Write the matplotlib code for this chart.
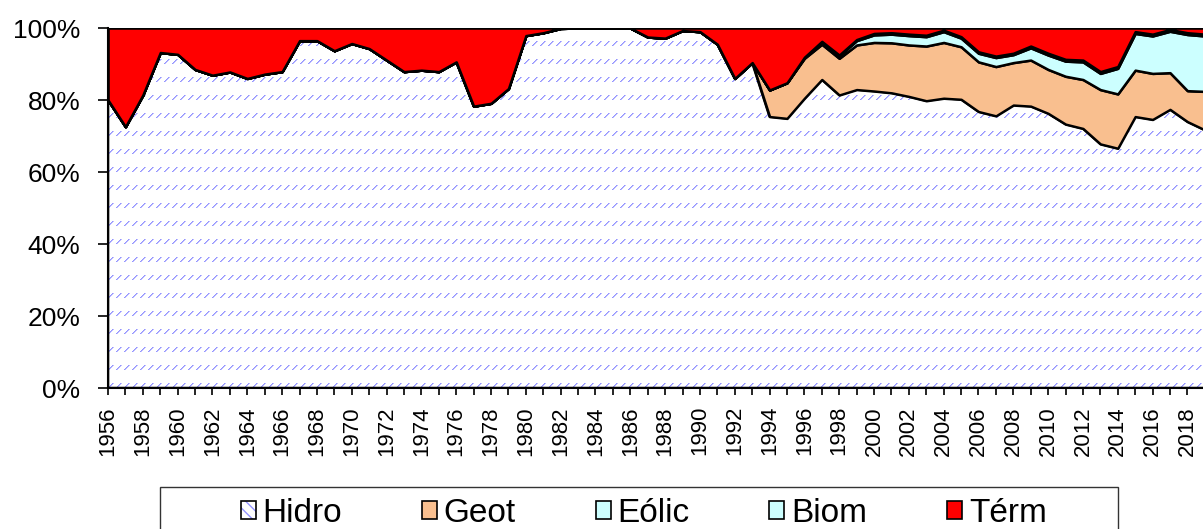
import numpy as np
import matplotlib
matplotlib.use("Agg")
import matplotlib.pyplot as plt
from matplotlib.patches import Patch, Rectangle
from matplotlib.ticker import MultipleLocator, PercentFormatter

plt.rcParams['font.family'] = ['Liberation Sans', 'DejaVu Sans']

years = list(range(1956, 2020))

# generation share by source, % of total
hidro = [80.0, 72.6, 81.4, 93.2, 92.7, 88.5, 86.9, 87.8, 86.0, 87.2,
         87.9, 96.5, 96.5, 93.7, 95.7, 94.3, 91.1, 87.9, 88.3, 87.9,
         90.6, 78.3, 79.1, 83.2, 97.9, 98.7, 99.9, 100.0, 100.0, 100.0,
         100.0, 97.5, 97.2, 99.3, 99.0, 95.5, 86.0, 90.4, 75.4, 74.9,
         80.5, 85.7, 81.4, 82.9, 82.5, 82.0, 81.0, 79.8, 80.5, 80.2,
         76.8, 75.6, 78.6, 78.3, 76.3, 73.3, 72.1, 67.8, 66.6, 75.4,
         74.6, 77.4, 74.0, 71.7]
geot = [0.0] * 38 + [
         7.4, 9.9, 11.1, 9.8, 10.2, 12.4, 13.5, 13.9, 14.3, 15.2,
         15.5, 14.6, 13.8, 13.7, 11.8, 12.8, 12.2, 13.3, 13.6, 15.1,
         15.1, 12.9, 12.8, 10.2, 8.6, 10.7]
eolic = [0.0] * 40 + [
         0.3, 0.6, 0.7, 1.2, 2.1, 2.4, 2.6, 2.6, 3.0, 2.4,
         2.4, 2.5, 2.2, 3.4, 4.0, 4.2, 4.9, 4.5, 7.1, 10.2,
         10.4, 11.5, 15.6, 15.4]
biom = [0.0] * 41 + [
         0.2, 0.2, 0.3, 0.4, 0.4, 0.4, 0.4, 0.4, 0.4, 0.4,
         0.4, 0.4, 0.5, 0.5, 0.5, 0.5, 0.5, 0.5, 0.5, 0.5,
         0.5, 0.5, 0.5]
term = [20.0, 27.4, 18.6, 6.8, 7.3, 11.5, 13.1, 12.2, 14.0, 12.8,
        12.1, 3.5, 3.5, 6.3, 4.3, 5.7, 8.9, 12.1, 11.7, 12.1,
        9.4, 21.7, 20.9, 16.8, 2.1, 1.3, 0.1, 0.0, 0.0, 0.0,
        0.0, 2.5, 2.8, 0.7, 1.0, 4.5, 14.0, 9.6, 17.2, 15.2,
        8.1, 3.7, 7.5, 3.2, 1.5, 1.3, 1.7, 2.0, 0.6, 2.4,
        6.6, 7.8, 7.0, 5.0, 7.0, 8.7, 8.9, 12.1, 10.7, 1.0,
        1.7, 0.4, 1.3, 1.7]

labels = ['Hidro', 'Geot', 'Eólic', 'Biom', 'Térm']
colors = ['white', '#F9BF8F', '#CCFFFF', '#CCFFFF', '#FF0000']
dash_blue = '#9494ff'

fig = plt.figure(figsize=(12.03, 5.29), dpi=100)
ax = fig.add_axes([0.0898, 0.2665, 0.9117, 0.6805])

areas = ax.stackplot(years, hidro, geot, eolic, biom, term,
                     colors=colors, edgecolor='black', linewidth=1.8)
areas[0].set_facecolor('none')

# dashed diagonal fill for the hydro area, built pixel by pixel
W = int(round(0.9117 * 1203))
H = int(round(0.6805 * 529))
rr, cc = np.mgrid[0:H, 0:W]
d = rr % 18
step = (cc - d) % 8
band = d < 5
pattern = np.zeros((H, W, 4))
pattern[band & (step == 0)] = matplotlib.colors.to_rgba(dash_blue)
pattern[band & (step == 1)] = matplotlib.colors.to_rgba(dash_blue, 0.6)
im = ax.imshow(pattern, extent=(1956, 2019, 0, 100), aspect='auto',
               interpolation='none', origin='lower', zorder=0.5)
im.set_clip_path(areas[0].get_paths()[0], transform=ax.transData)

ax.set_xlim(1956, 2019)
ax.set_ylim(0, 100)
ax.yaxis.set_major_locator(MultipleLocator(20))
ax.yaxis.set_major_formatter(PercentFormatter(decimals=0))
ax.xaxis.set_major_locator(MultipleLocator(2))
ax.xaxis.set_minor_locator(MultipleLocator(1))
ax.tick_params(axis='y', direction='out', length=7, width=1.2,
               labelsize=19, pad=13)
ax.tick_params(axis='x', which='both', direction='out', length=5,
               width=1.2, labelsize=16, pad=8, labelrotation=90)
for side in ['top', 'right']:
    ax.spines[side].set_visible(False)
for side in ['left', 'bottom']:
    ax.spines[side].set_linewidth(1.5)

handles = [(Patch(facecolor='white', edgecolor=dash_blue, hatch='\\\\\\', lw=0),
            Patch(facecolor='none', edgecolor='black', lw=1.2))]
for c in colors[1:]:
    handles.append(Patch(facecolor=c, edgecolor='black', lw=1.2))
fig.legend(handles, labels, ncol=5, loc='center',
           bbox_to_anchor=(0.535, 0.03), frameon=False,
           prop=dict(family='Liberation Sans', size=24),
           handlelength=0.45, handleheight=0.45, handletextpad=0.2,
           columnspacing=2.4)
fig.add_artist(Rectangle((160 / 1203, -0.05), (1118 - 160) / 1203,
                         (529 - 487) / 529 + 0.05, transform=fig.transFigure,
                         fill=False, edgecolor='#333333', lw=1))

fig.savefig('out.png', dpi=100)
